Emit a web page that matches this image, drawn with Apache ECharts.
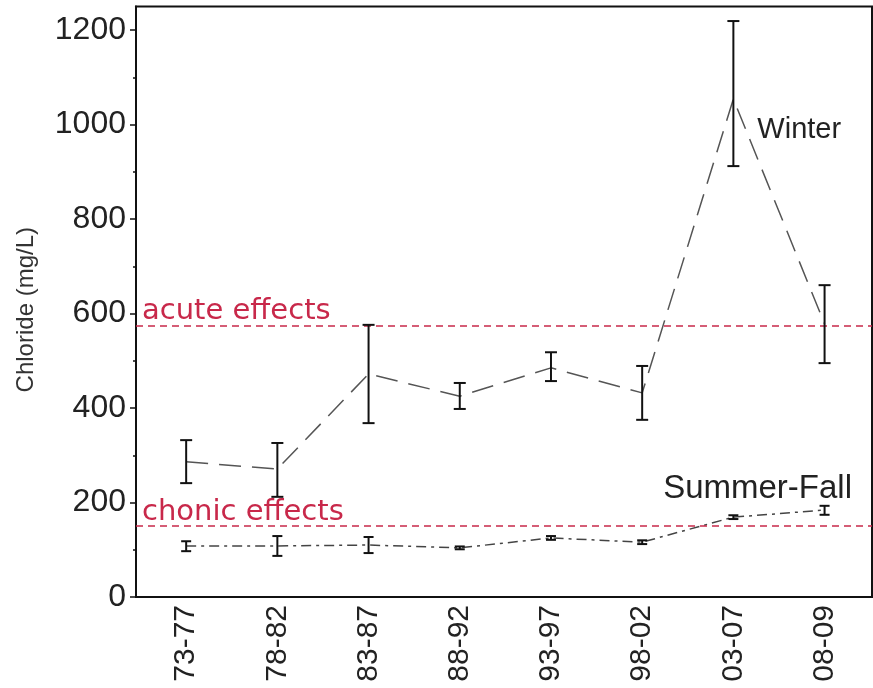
<!DOCTYPE html>
<html>
<head>
<meta charset="utf-8">
<script src="https://cdn.jsdelivr.net/npm/echarts@6/dist/echarts.min.js"></script>
<style>
html,body{margin:0;padding:0;background:#fff;}
#chart{width:873px;height:688px;}
</style>
</head>
<body>
<div id="chart"></div>
<script>
var categories = ['73-77','78-82','83-87','88-92','93-97','98-02','03-07','08-09'];
var winterMean = [286, 271, 472, 425, 485, 432, 1054, 578];
var winterLow  = [241, 212, 368, 398, 457, 375, 912, 495];
var winterHigh = [332, 326, 576, 453, 518, 489, 1219, 660];
var summerMean = [108, 108, 110, 104, 125, 116, 169, 184];
var summerLow  = [97, 87, 93, 101, 121, 112, 165, 174];
var summerHigh = [118, 129, 127, 107, 129, 120, 173, 193];
var yTickLabels = [0, 200, 400, 600, 800, 1000, 1200];
var yMinorTicks = [100, 300, 500, 700, 900, 1100];
var acuteLevel = 575;
var chronicLevel = 150;

var chart = echarts.init(document.getElementById('chart'));

function pts(arr){ return arr.map(function(v,i){ return [i, v]; }); }
function bars(lo, hi){ return lo.map(function(v,i){ return [i, v, hi[i]]; }); }

function errRender(halfW){
  return function(params, api){
    var x = api.value(0);
    var lo = api.coord([x, api.value(1)]);
    var hi = api.coord([x, api.value(2)]);
    var st = {stroke:'#111', lineWidth:2};
    return {type:'group', children:[
      {type:'line', shape:{x1:lo[0], y1:lo[1], x2:hi[0], y2:hi[1]}, style:st},
      {type:'line', shape:{x1:hi[0]-halfW, y1:hi[1], x2:hi[0]+halfW, y2:hi[1]}, style:st},
      {type:'line', shape:{x1:lo[0]-halfW, y1:lo[1], x2:lo[0]+halfW, y2:lo[1]}, style:st}
    ]};
  };
}

var redColor = '#c8284a';
var txtFont = 'DejaVu Sans';

chart.setOption({
  animation:false,
  backgroundColor:'#fff',
  grid:{left:136, top:6.4, right:1, bottom:91, show:true, borderColor:'#111', borderWidth:2},
  xAxis:{
    type:'value', min:-0.55, max:7.52,
    axisLine:{show:true, onZero:false, lineStyle:{color:'#111', width:2}},
    axisTick:{show:false},
    splitLine:{show:false},
    axisLabel:{
      customValues:[0,1,2,3,4,5,6,7],
      formatter:function(v){ return categories[Math.round(v)]; },
      rotate:90, margin:8, fontSize:30, color:'#222', fontFamily:'Liberation Sans'
    }
  },
  yAxis:[{
    type:'value', min:0, max:1250,
    name:'Chloride (mg/L)', nameLocation:'middle', nameGap:98, nameRotate:90,
    nameTextStyle:{fontSize:24, color:'#333', fontFamily:'Liberation Sans', padding:[0,0,0,-16]},
    axisLine:{show:true, onZero:false, lineStyle:{color:'#111', width:2}},
    axisTick:{show:true, length:6, customValues:yTickLabels, lineStyle:{color:'#111', width:1.5}},
    splitLine:{show:false},
    axisLabel:{customValues:yTickLabels, formatter:function(v){ return String(v); }, fontSize:32, color:'#222', margin:10, fontFamily:'Liberation Sans'}
  },{
    type:'value', min:0, max:1250, position:'left',
    axisLine:{show:false, onZero:false},
    axisTick:{show:true, length:3, customValues:yMinorTicks, lineStyle:{color:'#111', width:1.5}},
    axisLabel:{show:false},
    splitLine:{show:false}
  }],
  series:[
    {
      type:'line', name:'Winter', data:pts(winterMean), symbol:'none',
      lineStyle:{color:'#555', width:1.5, type:[22,11]},
      markPoint:{
        symbol:'circle', symbolSize:0,
        data:[{coord:[6, winterMean[6]], label:{show:true, formatter:'Winter', position:'right', distance:24, offset:[0,31], fontSize:29, color:'#222', fontFamily:'Liberation Sans'}}]
      },
      markLine:{
        silent:true, symbol:['none','none'],
        lineStyle:{color:redColor, width:1.5, type:[7,5]},
        label:{position:'insideStartTop', distance:[6,-1], color:redColor, fontSize:29, fontFamily:txtFont},
        data:[{yAxis:acuteLevel, label:{formatter:'acute effects'}},{yAxis:chronicLevel, label:{formatter:'chonic effects'}}]
      }
    },
    {
      type:'line', name:'Summer-Fall', data:pts(summerMean), symbol:'none',
      lineStyle:{color:'#444', width:1.5, type:[10,5,3,5]},
      markPoint:{
        symbol:'circle', symbolSize:0,
        data:[{coord:[7, summerMean[7]], label:{show:true, formatter:'Summer-Fall', position:'top', distance:8, offset:[-67,3], fontSize:33, color:'#222', fontFamily:'Liberation Sans'}}]
      }
    },
    {type:'custom', name:'winterErr', data:bars(winterLow, winterHigh), renderItem:errRender(6), z:5},
    {type:'custom', name:'summerErr', data:bars(summerLow, summerHigh), renderItem:errRender(5), z:5}
  ]
});
</script>
</body>
</html>
